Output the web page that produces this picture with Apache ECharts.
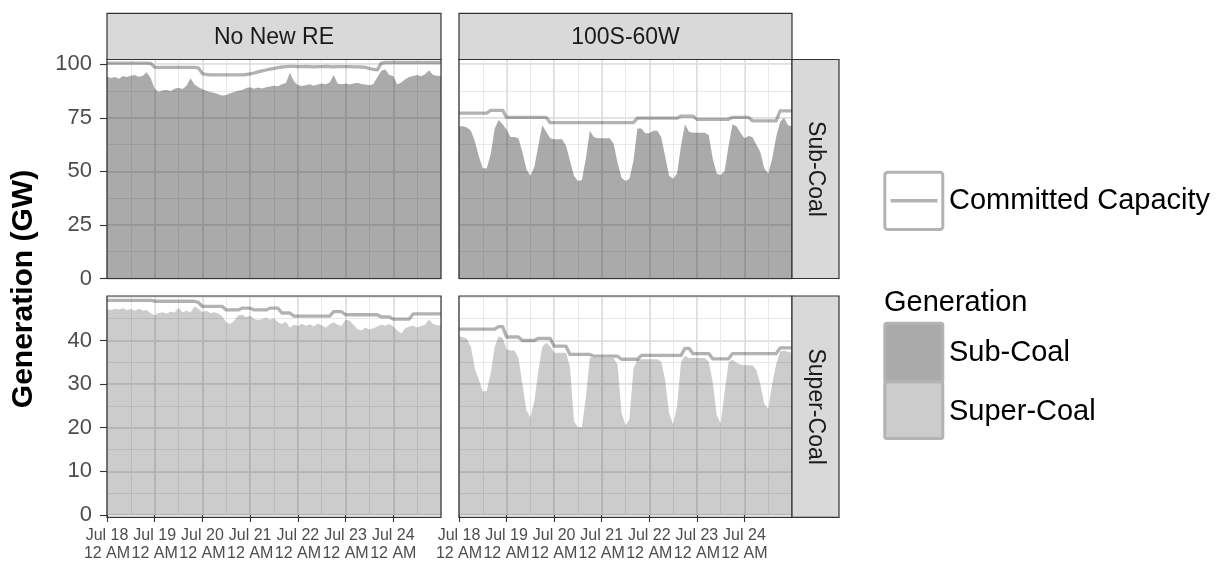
<!DOCTYPE html>
<html><head><meta charset="utf-8">
<script src="https://cdn.jsdelivr.net/npm/echarts@6/dist/echarts.min.js"></script>
<style>html,body{margin:0;padding:0;background:#fff}#c{width:1223px;height:563px}</style>
</head><body><div id="c"></div>
<script>
// ---- data (hours after Jul 18 12 AM) ----
const hours = [0,2,4,6,8,10,12,14,16,18,20,22,24,26,28,30,32,34,36,38,40,42,44,46,48,50,52,54,56,58,60,62,64,66,68,70,72,74,76,78,80,82,84,86,88,90,92,94,96,98,100,102,104,106,108,110,112,114,116,118,120,122,124,126,128,130,132,134,136,138,140,142,144,146,148,150,152,154,156,158,160,162,164,166,168];
const xTickLabels = ['Jul 18\n12 AM','Jul 19\n12 AM','Jul 20\n12 AM','Jul 21\n12 AM','Jul 22\n12 AM','Jul 23\n12 AM','Jul 24\n12 AM'];
const yTicksTop = [0,25,50,75,100];
const yTicksBottom = [0,10,20,30,40];
const facetCols = ['No New RE','100S-60W'];
const facetRows = ['Sub-Coal','Super-Coal'];

// No New RE, Sub-Coal
const genNoRE_sub = [94.2,93.6,94,93.2,94.5,94,94.6,95,94.1,94.6,96.3,93.5,
  88.5,87.2,87.8,88,87.5,88.6,89,88.4,90,93.5,90.5,89.2,
  88.3,87.6,87,86.6,86,85.4,85.6,86.5,87,87.6,88,88.9,
  89.2,88.6,89.1,88.7,89.2,89.6,90,89.7,90.6,91.2,96,92,
  90.3,89.8,90.2,90.6,90,90.5,91,90.6,91.5,95,91,90.6,
  91,90.5,91,91.3,90.8,90.5,90.2,90.8,94,97,97.5,95,
  94.5,90.5,91.5,93,94,94.5,95,94.4,95.3,97.2,95,94.6,94.5];
const capNoRE_sub = [100.5,100.5,100.5,100.5,100.5,100.5,100.5,100.5,100.5,100.5,100.5,100.4,
  98.6,98.5,98.5,98.5,98.5,98.5,98.5,98.5,98.5,98.5,98.5,98.2,
  95.6,95.2,95,95,95,95,95,95,95,95,95,95.2,
  95.5,95.9,96.4,96.9,97.3,97.7,98.1,98.4,98.7,98.9,99,99,
  98.9,98.9,99,98.9,98.8,98.9,98.9,99,98.9,98.8,98.9,98.9,
  98.9,98.9,98.8,98.8,98.7,98.5,98,97.6,97.4,100.5,100.8,100.8,
  100.8,100.8,100.8,100.8,100.8,100.8,100.8,100.8,100.8,100.8,100.8,100.8,100.8];
// 100S-60W, Sub-Coal
const gen100_sub = [71,71,70.5,69,64,57,51.5,51.5,58,70,74,72,
  69.5,66,66,65.5,59,51,48,52,62,71.5,68.5,65.5,
  65,65,65,62,55,48,45.5,46,56,69,66,65.5,
  65.5,65.5,65.5,63,54,47,45.5,46.5,55,70,70,67.8,
  67.8,69,69,66,57,48,46.5,49,62,72,68.5,68,
  68,68,68,67,56,49,48.3,50,62,72,71,68,
  65.5,66.5,66,62.5,59,51.5,49,56,66,73,75,71.5,71];
const cap100_sub = [77.2,77.2,77.2,77.2,77.2,77.2,77.2,77.2,78.5,78.5,78.5,78.5,
  75.2,75.2,75.2,75.2,75.2,75.2,75.2,75.2,75.2,75.2,75.2,72.7,
  72.7,72.7,72.7,72.7,72.7,72.7,72.7,72.7,72.7,72.7,72.7,72.7,
  72.7,72.7,72.7,72.7,72.7,72.7,72.7,72.7,72.7,74.8,74.8,74.8,
  74.8,74.8,74.8,74.8,74.8,74.8,74.8,74.8,75.8,75.8,75.8,75.8,
  74.3,74.3,74.3,74.3,74.3,74.3,74.3,74.3,74.3,75.2,75.2,75.2,
  75.2,75.2,73.6,73.6,73.6,73.6,73.6,73.6,73.6,78.2,78.2,78.2,78.2];
// No New RE, Super-Coal
const genNoRE_sup = [47.2,47,47.3,47.1,47.4,47,47.2,46.8,47.3,46.9,47,46.2,
  45.8,46.3,46.5,46.2,46.6,46.4,47.5,46.5,46.8,46.4,47.8,47.2,
  46.5,46.8,46.3,46.5,46.2,45.5,44.2,43.8,44.5,45.8,45.9,45.4,
  45.7,45,44.7,44.9,45.2,44.8,45.1,44.2,43.8,44.3,42.9,43.6,
  43.3,43.8,43.4,43.7,43.2,43.9,43.5,42.9,43.7,44.2,43.6,43.3,
  44.8,44.5,43.6,42.6,42.3,43,42.5,42.8,43.2,43.6,43.4,43.8,
  43.2,42.3,41.6,42.8,43.2,43.4,43,43.3,43.6,44.8,43.8,43.5,43.5];
const capNoRE_sup = [49.2,49.2,49.2,49.2,49.2,49.2,49.2,49.2,49.2,49.2,49.2,49.2,
  49,49,49,49,49,49,49,49,49,49,49,48.7,
  47.8,47.8,47.8,47.8,47.8,47.8,47,47,47,47,47.4,47.4,
  47.4,47,47,47,47,47.4,47.4,47.4,46.3,46.3,46.3,45.6,
  45.6,45.6,45.6,45.6,45.6,45.6,45.6,45.6,45.6,46.6,46.6,46.6,
  45.9,45.9,45.9,45.9,45.9,45.9,45.9,45.9,45.9,45.4,45.4,45.4,
  44.9,44.9,44.9,44.9,44.9,46.1,46.1,46.1,46.1,46.1,46.1,46.1,46.1];
// 100S-60W, Super-Coal
const gen100_sup = [41,40.8,40.4,38.5,33.5,31,28.3,28.5,32.5,38.5,41,40.5,
  38,37.7,37.7,36,30,24,22.4,26,33,38.5,39.5,38.7,
  37.2,37.2,37.2,37.2,34,21.5,20.2,20.2,27,36.1,36,36,
  36,36,36,36,34.5,23.5,20.5,22,33.5,35.7,35.7,35.7,
  35.7,35.7,35.7,35.2,31,23.3,20.8,25,35,36.5,36,36,
  36,36,36,35.2,30.5,23,21,28,35,35.6,34.9,34.5,
  34.3,34.3,34.3,33.3,30,25.5,24.3,30,34.5,37.5,37.7,37.4,37.2];
const cap100_sup = [42.6,42.6,42.6,42.6,42.6,42.6,42.6,42.6,42.6,42.6,43.2,43.2,
  40.8,40.8,40.8,40.8,40,40,40,40,40.5,40.5,40.5,40.5,
  38.7,38.7,38.7,38.7,36.8,36.8,36.8,36.8,36.8,36.8,36.4,36.4,
  36.4,36.4,36.4,36.4,36.4,35.7,35.7,35.7,35.7,35.7,36.6,36.6,
  36.6,36.6,36.6,36.6,36.6,36.6,36.6,36.6,36.6,38.2,38.2,37,
  37,37,37,37,35.8,35.8,35.8,35.8,35.8,37,37,37,
  37,37,37,37,37,37,37,37,37,38.3,38.3,38.3,38.3];

// ---- styles ----
const FONT = '"Liberation Sans", Arial, Helvetica, sans-serif';
const SUB_FILL = 'rgba(0,0,0,0.335)';
const SUP_FILL = 'rgba(0,0,0,0.2)';
const CAP_COLOR = 'rgba(0,0,0,0.3)';
const GRID_MAJOR = '#d6d6d6';
const GRID_MINOR = '#e6e6e6';

const panels = [
  {g:{left:107, top:59.5, width:334, height:219},   ymax:102.2, yint:25, gen:genNoRE_sub, cap:capNoRE_sub, fill:SUB_FILL, showX:false, showY:true,  yTicks:yTicksTop},
  {g:{left:459, top:59.5, width:333, height:219},   ymax:102.2, yint:25, gen:gen100_sub,  cap:cap100_sub,  fill:SUB_FILL, showX:false, showY:false, yTicks:yTicksTop},
  {g:{left:107, top:296,  width:334, height:221.3}, ymax:50.2,  yint:10, gen:genNoRE_sup, cap:capNoRE_sup, fill:SUP_FILL, showX:true,  showY:true,  yTicks:yTicksBottom},
  {g:{left:459, top:296,  width:333, height:221.3}, ymax:50.2,  yint:10, gen:gen100_sup,  cap:cap100_sup,  fill:SUP_FILL, showX:true,  showY:false, yTicks:yTicksBottom}
];

const grid = [], xAxis = [], yAxis = [], series = [], graphic = [];
const xTickVals = xTickLabels.map((_, i) => i * 24);

panels.forEach((p, i) => {
  grid.push(Object.assign({containLabel:false, show:false}, p.g));
  // major x
  xAxis.push({type:'value', gridIndex:i, min:0, max:168, interval:24,
    axisLine:{show:false},
    axisTick:{show:p.showX, length:7, customValues:xTickVals, lineStyle:{color:'#333', width:1.1}},
    axisLabel:{show:p.showX, customValues:xTickVals, margin:12, fontSize:16, lineHeight:18, color:'#4d4d4d', fontFamily:FONT,
      formatter: v => (v % 24 === 0 && v/24 < xTickLabels.length) ? xTickLabels[v/24] : ''},
    splitLine:{show:true, lineStyle:{color:GRID_MAJOR, width:1.6}}});
  // minor x
  xAxis.push({type:'value', gridIndex:i, min:0, max:168, interval:12,
    axisLine:{show:false}, axisTick:{show:false}, axisLabel:{show:false},
    splitLine:{show:true, lineStyle:{color:GRID_MINOR, width:0.9}}});
  // major y
  yAxis.push({type:'value', gridIndex:i, min:0, max:p.ymax, interval:p.yint,
    axisLine:{show:false},
    axisTick:{show:p.showY, length:7, customValues:p.yTicks, lineStyle:{color:'#333', width:1.1}},
    axisLabel:{show:p.showY, customValues:p.yTicks, margin:15, fontSize:22, color:'#4d4d4d', fontFamily:FONT,
      formatter: v => p.yTicks.indexOf(v) >= 0 ? String(v) : ''},
    splitLine:{show:true, lineStyle:{color:GRID_MAJOR, width:1.6}}});
  // minor y
  yAxis.push({type:'value', gridIndex:i, min:0, max:p.ymax, interval:p.yint/2,
    axisLine:{show:false}, axisTick:{show:false}, axisLabel:{show:false},
    splitLine:{show:true, lineStyle:{color:GRID_MINOR, width:0.9}}});

  series.push({type:'line', name:'Generation', xAxisIndex:2*i, yAxisIndex:2*i,
    data: hours.map((h, k) => [h, p.gen[k]]), symbol:'none', silent:true, z:2,
    lineStyle:{width:0}, itemStyle:{color:p.fill}, areaStyle:{color:p.fill, opacity:1}});
  series.push({type:'line', name:'Committed Capacity', xAxisIndex:2*i, yAxisIndex:2*i,
    data: hours.map((h, k) => [h, p.cap[k]]), symbol:'none', silent:true, z:3,
    lineStyle:{color:CAP_COLOR, width:3.3, cap:'butt', join:'round'}});

  // panel border
  graphic.push({type:'rect', z:100, silent:true,
    shape:{x:p.g.left, y:p.g.top, width:p.g.width, height:p.g.height},
    style:{fill:'none', stroke:'#333', lineWidth:1.2}});
});

// column strips
[[107,334],[459,333]].forEach((c, j) => {
  graphic.push({type:'rect', z:100, silent:true, shape:{x:c[0], y:13.3, width:c[1], height:46.2},
    style:{fill:'#d9d9d9', stroke:'#333', lineWidth:1.2}});
  graphic.push({type:'text', z:101, silent:true, x:c[0] + c[1]/2, y:37.3,
    style:{text:facetCols[j], fontSize:23, fontFamily:FONT, fill:'#1a1a1a', align:'center', verticalAlign:'middle', textAlign:'center', textVerticalAlign:'middle'}});
});
// row strips
[[59.5,219],[296,221.3]].forEach((r, j) => {
  graphic.push({type:'rect', z:100, silent:true, shape:{x:792, y:r[0], width:47, height:r[1]},
    style:{fill:'#d9d9d9', stroke:'#333', lineWidth:1.2}});
  graphic.push({type:'text', z:101, silent:true, x:815.5, y:r[0] + r[1]/2, rotation:-Math.PI/2,
    style:{text:facetRows[j], fontSize:23, fontFamily:FONT, fill:'#1a1a1a', align:'center', verticalAlign:'middle', textAlign:'center', textVerticalAlign:'middle'}});
});
// y axis title
graphic.push({type:'text', z:101, silent:true, x:24, y:289, rotation:Math.PI/2,
  style:{text:'Generation (GW)', fontSize:30, fontWeight:'bold', fontFamily:FONT, fill:'#000', align:'center', verticalAlign:'middle', textAlign:'center', textVerticalAlign:'middle'}});

// legend
const legText = (t, x, y) => ({type:'text', z:101, silent:true, x:x, y:y,
  style:{text:t, fontSize:29, fontFamily:FONT, fill:'#000', align:'left', verticalAlign:'middle', textAlign:'left', textVerticalAlign:'middle'}});
graphic.push({type:'rect', z:100, silent:true, shape:{x:884.8, y:172.2, width:58, height:57.3, r:3},
  style:{fill:'#fff', stroke:'#b3b3b3', lineWidth:3}});
graphic.push({type:'line', z:101, silent:true, shape:{x1:890.5, y1:200.8, x2:937.5, y2:200.8},
  style:{stroke:'#b3b3b3', lineWidth:3.5}});
graphic.push(legText('Committed Capacity', 949, 201));
graphic.push(legText('Generation', 884, 303));
graphic.push({type:'rect', z:100, silent:true, shape:{x:884.8, y:323.2, width:58, height:58.8, r:2},
  style:{fill:'#aaaaaa', stroke:'#b3b3b3', lineWidth:3}});
graphic.push({type:'rect', z:100, silent:true, shape:{x:884.8, y:382, width:58, height:56.5, r:2},
  style:{fill:'#cccccc', stroke:'#b3b3b3', lineWidth:3}});
graphic.push(legText('Sub-Coal', 949, 353));
graphic.push(legText('Super-Coal', 949, 412));

const chart = echarts.init(document.getElementById('c'), null, {renderer:'canvas'});
chart.setOption({backgroundColor:'#fff', animation:false, grid, xAxis, yAxis, series, graphic});
</script>
</body></html>
